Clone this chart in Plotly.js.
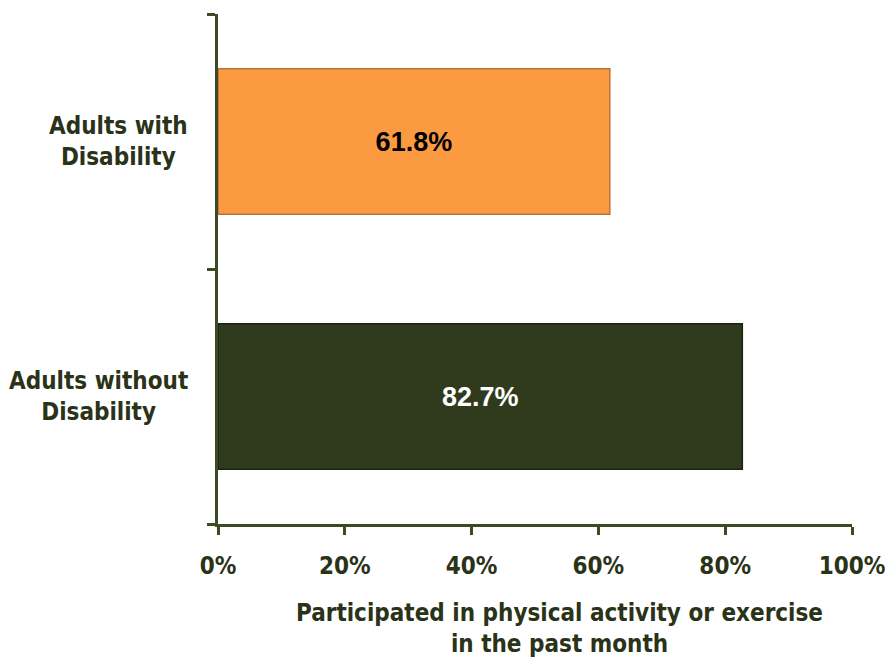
<!DOCTYPE html>
<html>
<head>
<meta charset="utf-8">
<script src="https://cdn.plot.ly/plotly-3.0.1.min.js"></script>
<style>html,body{margin:0;padding:0;background:#fff;}#chart{width:891px;height:662px;}</style>
</head>
<body>
<div id="chart"></div>
<script>
// Data
var categories = ["Adults without Disability", "Adults with Disability"];
var categoryLabels = ["Adults without<br>Disability", "Adults with<br>Disability"];
var values = [82.7, 61.8];
var valueLabels = ["82.7%", "61.8%"];
var xTickValues = [0, 20, 40, 60, 80, 100];
var xTickLabels = ["0%", "20%", "40%", "60%", "80%", "100%"];
var xTitle = "Participated in physical activity or exercise<br>in the past month";

var FONT = "Liberation Sans Narrow, DejaVu Sans Condensed, DejaVu Sans, sans-serif";
var BARFONT = "Liberation Sans, Arial, sans-serif";
var TXT = "#2a3318";
var AX = "#3c4b23";

var trace = {
  type: "bar",
  orientation: "h",
  y: categories,
  x: values,
  text: valueLabels,
  textposition: "inside",
  insidetextanchor: "middle",
  textfont: {family: BARFONT, size: 27, weight: "bold", color: ["#ffffff", "#000000"]},
  width: 0.57,
  marker: {color: ["#303a1c", "#fc9a42"], line: {color: ["#1c230e", "#b9713a"], width: 1.5}},
  hoverinfo: "skip"
};

var annotations = categories.map(function (c, i) {
  return {
    xref: "paper", yref: "y", x: -0.044, y: c,
    xanchor: "right", yanchor: "middle", align: "center",
    text: categoryLabels[i], showarrow: false,
    font: {family: FONT, size: 24, weight: "bold", stretch: "condensed", color: TXT}
  };
});
annotations.push({
  xref: "paper", yref: "paper", x: 0.538, y: -0.204,
  xanchor: "center", yanchor: "middle", align: "center",
  text: xTitle, showarrow: false,
  font: {family: FONT, size: 24, weight: "bold", stretch: "condensed", color: TXT}
});

var layout = {
  width: 891, height: 662,
  margin: {l: 218, r: 39, t: 14, b: 138},
  paper_bgcolor: "#ffffff", plot_bgcolor: "#ffffff",
  showlegend: false,
  bargap: 0.43,
  xaxis: {
    range: [0, 100], tickvals: xTickValues, ticktext: xTickLabels,
    showgrid: false, zeroline: false, showline: true, linecolor: AX, linewidth: 3,
    ticks: "outside", ticklen: 8, tickwidth: 3, tickcolor: AX,
    tickfont: {family: FONT, size: 24, weight: "bold", stretch: "condensed", color: TXT},
    ticklabelstandoff: 10, fixedrange: true
  },
  yaxis: {
    type: "category", categoryorder: "array", categoryarray: categories,
    range: [-0.5, 1.5], showticklabels: false,
    showgrid: false, zeroline: false, showline: true, linecolor: AX, linewidth: 3,
    ticks: "outside", tickson: "boundaries", ticklen: 8, tickwidth: 3, tickcolor: AX,
    fixedrange: true
  },
  annotations: annotations
};

Plotly.newPlot("chart", [trace], layout, {displayModeBar: false, staticPlot: true});
</script>
</body>
</html>
